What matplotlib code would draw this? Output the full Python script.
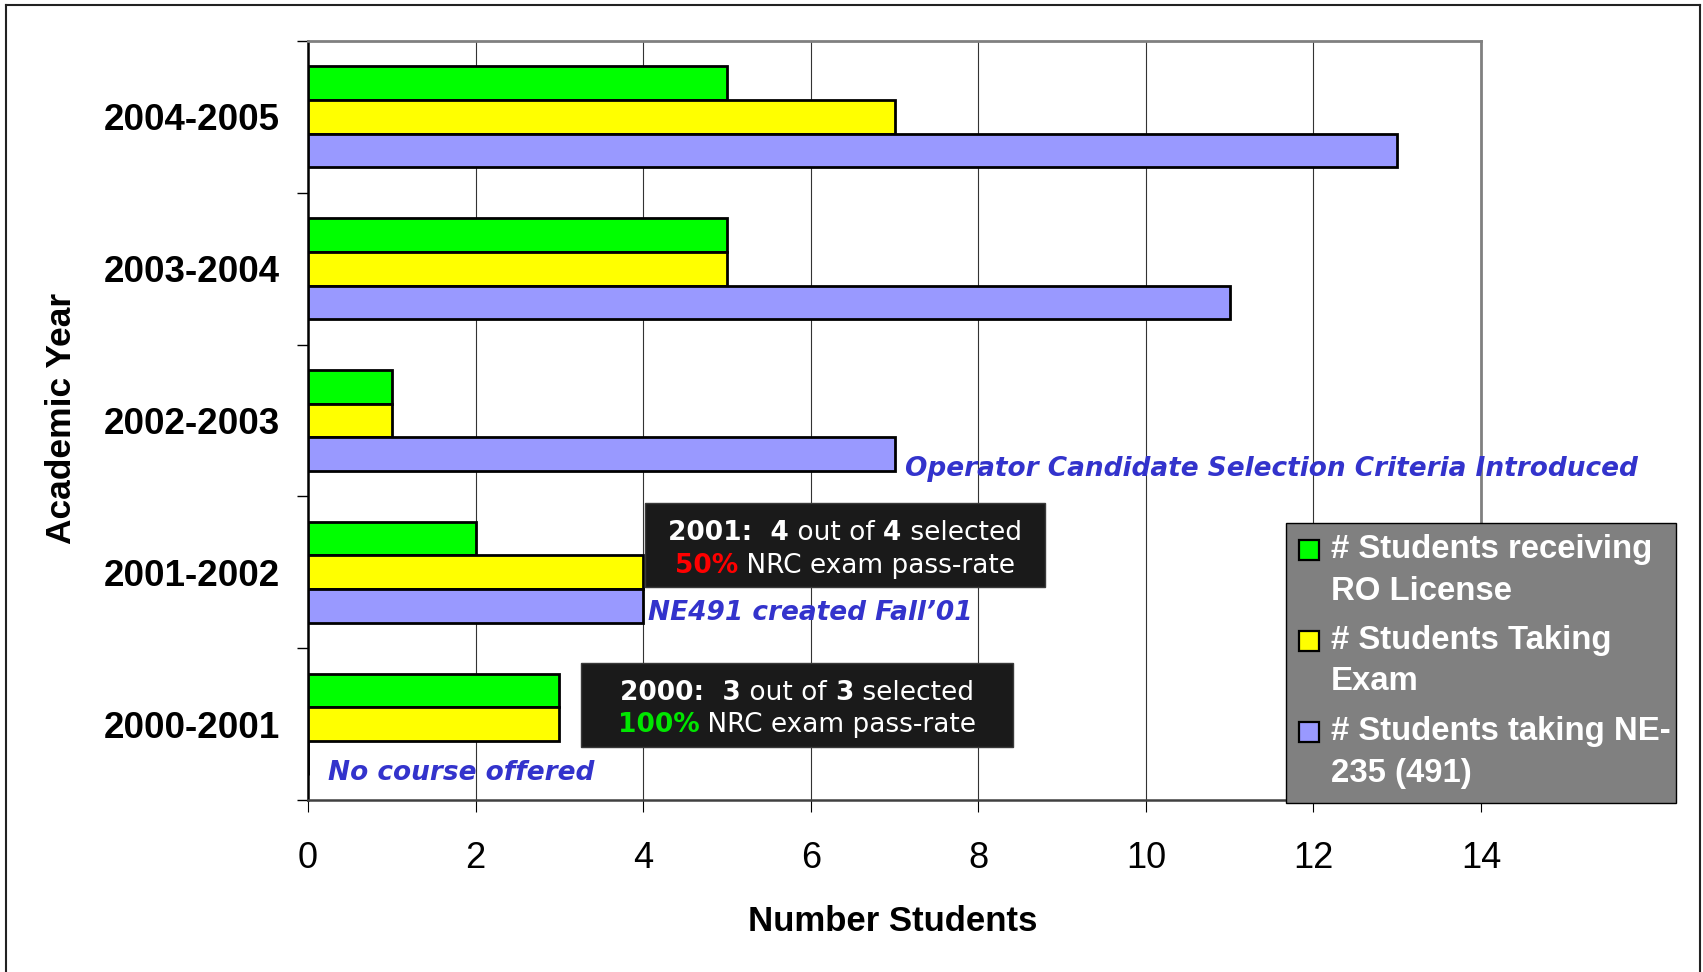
import matplotlib
matplotlib.use('Agg')
import matplotlib.pyplot as plt
import numpy as np
from matplotlib.patches import Rectangle
from matplotlib.lines import Line2D

# chart data
years = ['2000-2001', '2001-2002', '2002-2003', '2003-2004', '2004-2005']
ro_license = [3, 2, 1, 5, 5]
taking_exam = [3, 4, 1, 5, 7]
taking_ne235 = [0, 4, 7, 11, 13]

series_labels = ['# Students receiving\nRO License',
                 '# Students Taking\nExam',
                 '# Students taking NE-\n235 (491)']
series_colors = ['#00ff00', '#ffff00', '#9999ff']
x_ticks = [0, 2, 4, 6, 8, 10, 12, 14]

plt.rcParams['font.family'] = ['Liberation Sans', 'DejaVu Sans']

W, H = 1703, 972
fig = plt.figure(figsize=(W / 100, H / 100), dpi=100)


# helpers to place decorations in pixel coords (from top-left)
def fx(px):
    return px / W


def fy(py):
    return 1 - py / H


ax = fig.add_axes([fx(308), fy(800), (1481 - 308) / W, (800 - 41) / H])

pos = np.arange(len(years))
bar_h = 0.222
for vals, off, col in zip([ro_license, taking_exam, taking_ne235], [bar_h, 0, -bar_h], series_colors):
    ax.barh(pos + off, vals, height=bar_h, color=col, edgecolor='black', linewidth=2.0, zorder=3)

ax.set_xlim(0, 14)
ax.set_ylim(-0.5, len(years) - 0.5)
ax.set_xticks(x_ticks)
ax.set_axisbelow(True)
ax.xaxis.grid(True, color='#333333', linewidth=0.8)

ax.spines['left'].set_color('black')
ax.spines['left'].set_linewidth(1.8)
ax.spines['bottom'].set_color('#404040')
ax.spines['bottom'].set_linewidth(1.8)
for s in ['top', 'right']:
    ax.spines[s].set_color('#808080')
    ax.spines[s].set_linewidth(2)

ax.set_yticks(pos)
ax.set_yticklabels(years, fontsize=26.5, fontweight='bold')
ax.tick_params(axis='y', which='major', length=0, pad=20)
ax.set_yticks(np.arange(-0.5, len(years), 1), minor=True)
ax.tick_params(axis='y', which='minor', length=8, width=1, color='black', direction='out')
ax.tick_params(axis='x', length=8.6, width=0.8, pad=21, labelsize=26, direction='out', color='black')

ax.set_xlabel('Number Students', fontsize=25, fontweight='bold')
ax.xaxis.set_label_coords((893 - 308) / (1481 - 308), -(921 - 800) / (800 - 41))
ax.xaxis.label.set_va('center')
ax.set_ylabel('Academic Year', fontsize=25.5, fontweight='bold')
ax.yaxis.set_label_coords(-(308 - 62) / (1481 - 308), (800 - 418) / (800 - 41))
ax.yaxis.label.set_va('center')

# blue notes next to the bars
note_kw = dict(color='#3333cc', fontsize=19, fontweight='bold', style='italic',
               family='DejaVu Sans', va='baseline', ha='left')
ax.text(7.12, 1.637, 'Operator Candidate Selection Criteria Introduced', **note_kw)
ax.text(4.06, 0.686, 'NE491 created Fall\u201901', **note_kw)
ax.text(0.24, -0.368, 'No course offered', **note_kw)

# dark boxes with multi-coloured text
renderer = fig.canvas.get_renderer()


def adv_width(s, **kw):
    t = fig.text(0, 0, '|' + s + '|', **kw)
    t2 = fig.text(0, 0, '||', **kw)
    w = t.get_window_extent(renderer).width - t2.get_window_extent(renderer).width
    t.remove()
    t2.remove()
    return w


def rich_line(cx, base_y, pieces):
    kws = [dict(color=c, fontweight=wt, fontsize=19, family='DejaVu Sans') for _, c, wt in pieces]
    widths = [adv_width(s, **kw) for (s, _, _), kw in zip(pieces, kws)]
    x = cx - sum(widths) / 2
    for (s, _, _), kw, w in zip(pieces, kws, widths):
        fig.text(fx(x), fy(base_y), s, ha='left', va='baseline', **kw)
        x += w


for (x0, y0, x1, y1) in [(645, 503, 1045, 587), (581, 663, 1013, 747)]:
    fig.add_artist(Rectangle((fx(x0), fy(y1)), (x1 - x0) / W, (y1 - y0) / H,
                             transform=fig.transFigure, facecolor='#1a1a1a',
                             edgecolor='#3a3a3a', linewidth=1))

rich_line(845, 539.5, [('2001:  4', 'white', 'bold'), (' out of ', 'white', 'normal'),
                       ('4', 'white', 'bold'), (' selected', 'white', 'normal')])
rich_line(845, 572.5, [('50%', '#ff0000', 'bold'), (' NRC exam pass-rate', 'white', 'normal')])
rich_line(797, 699.5, [('2000:  3', 'white', 'bold'), (' out of ', 'white', 'normal'),
                       ('3', 'white', 'bold'), (' selected', 'white', 'normal')])
rich_line(797, 731.5, [('100%', '#00e600', 'bold'), (' NRC exam pass-rate', 'white', 'normal')])

# legend box drawn by hand
fig.add_artist(Rectangle((fx(1286), fy(803)), (1676 - 1286) / W, (803 - 523) / H,
                         transform=fig.transFigure, facecolor='#808080',
                         edgecolor='black', linewidth=1))
for i, (lab, col) in enumerate(zip(series_labels, series_colors)):
    base = 558 + i * 91
    fig.add_artist(Rectangle((fx(1299), fy(base - 8 + 10)), 20 / W, 20 / H,
                             transform=fig.transFigure, facecolor=col,
                             edgecolor='black', linewidth=1.6))
    for j, line in enumerate(lab.split('\n')):
        fig.text(fx(1331), fy(base + j * 41.5), line, color='white', fontsize=23.7,
                 fontweight='bold', ha='left', va='baseline')

# outer frame
for xs, ys in [([6, 6], [5, 975]), ([6, 1700], [5, 5]), ([1700, 1700], [5, 975])]:
    fig.add_artist(Line2D([fx(x) for x in xs], [fy(y) for y in ys],
                          transform=fig.transFigure, color='#222222', linewidth=1.5))

fig.savefig('out.png', dpi=100)
